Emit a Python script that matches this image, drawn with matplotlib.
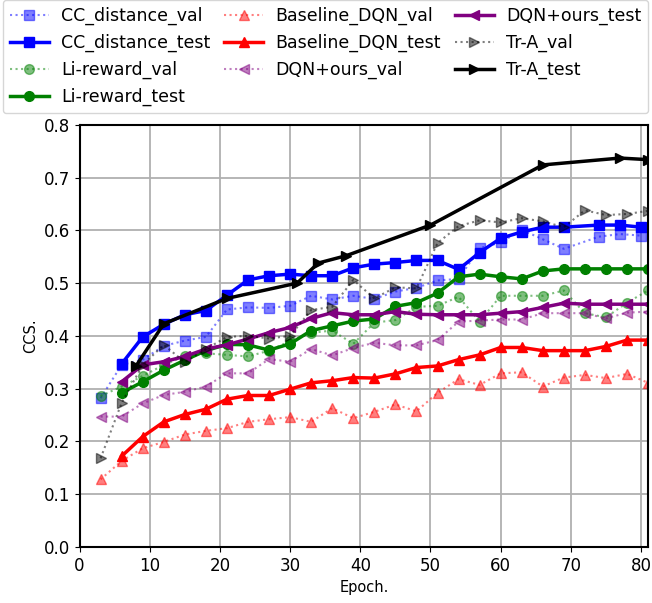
import numpy as np
import matplotlib
matplotlib.use("Agg")
import matplotlib.pyplot as plt

# epochs
ep_val = np.arange(3, 82, 3)
ep_test = np.arange(6, 82, 3)
ep_cc_val = [3, 6, 9, 12, 15, 18, 21, 24, 27, 30, 33, 36, 39, 42, 45, 48, 51, 54, 57, 60, 63, 66, 69, 74, 77, 80]
ep_cc_test = ep_cc_val[1:]
ep_tra_test = [8, 12, 21, 31, 34, 38, 50, 66, 77, 81]

cc_val = [0.282, 0.345, 0.355, 0.381, 0.391, 0.398, 0.450, 0.454, 0.453, 0.457, 0.476, 0.469, 0.476,
          0.470, 0.484, 0.491, 0.505, 0.508, 0.566, 0.577, 0.601, 0.583, 0.565, 0.588, 0.593, 0.590]
cc_test = [0.347, 0.398, 0.422, 0.440, 0.448, 0.477, 0.506, 0.514, 0.517, 0.514, 0.514, 0.529, 0.536,
           0.539, 0.543, 0.543, 0.526, 0.558, 0.585, 0.597, 0.606, 0.606, 0.610, 0.610, 0.606]
li_val = [0.286, 0.304, 0.324, 0.345, 0.362, 0.367, 0.364, 0.361, 0.372, 0.390, 0.406, 0.410, 0.385, 0.425,
          0.430, 0.455, 0.457, 0.474, 0.427, 0.476, 0.476, 0.476, 0.486, 0.443, 0.435, 0.463, 0.486]
li_test = [0.292, 0.313, 0.335, 0.354, 0.372, 0.384, 0.383, 0.373, 0.385, 0.410, 0.419, 0.428, 0.432,
           0.456, 0.463, 0.481, 0.512, 0.517, 0.512, 0.508, 0.523, 0.527, 0.527, 0.527, 0.527, 0.527]
base_val = [0.128, 0.163, 0.187, 0.199, 0.213, 0.220, 0.225, 0.237, 0.242, 0.246, 0.237, 0.263, 0.244, 0.256,
            0.270, 0.257, 0.292, 0.318, 0.307, 0.329, 0.331, 0.304, 0.321, 0.326, 0.320, 0.328, 0.311]
base_test = [0.172, 0.209, 0.237, 0.251, 0.261, 0.280, 0.287, 0.287, 0.299, 0.311, 0.315, 0.321, 0.320,
             0.328, 0.340, 0.343, 0.355, 0.364, 0.378, 0.378, 0.372, 0.372, 0.372, 0.380, 0.392, 0.392]
ours_val = [0.247, 0.247, 0.272, 0.288, 0.294, 0.304, 0.329, 0.329, 0.356, 0.351, 0.375, 0.363, 0.377, 0.387,
            0.382, 0.382, 0.392, 0.427, 0.429, 0.431, 0.431, 0.443, 0.443, 0.443, 0.433, 0.444, 0.446]
ours_test = [0.313, 0.345, 0.351, 0.361, 0.375, 0.383, 0.394, 0.406, 0.416, 0.433, 0.444, 0.440, 0.440,
             0.446, 0.441, 0.440, 0.440, 0.440, 0.443, 0.446, 0.454, 0.462, 0.460, 0.460, 0.460, 0.460]
tra_val = [0.168, 0.273, 0.345, 0.383, 0.350, 0.375, 0.398, 0.400, 0.395, 0.400, 0.449, 0.455, 0.506, 0.471,
           0.492, 0.490, 0.576, 0.608, 0.619, 0.615, 0.623, 0.617, 0.606, 0.638, 0.629, 0.631, 0.637]
tra_test = [0.342, 0.423, 0.471, 0.500, 0.538, 0.552, 0.610, 0.724, 0.737, 0.734]

fig = plt.figure(figsize=(6.52, 6.03), dpi=100)
ax = fig.add_axes([0.122, 0.093, 0.872, 0.7])

val_kw = dict(linestyle=":", linewidth=1.5, markersize=7, alpha=0.5)
test_kw = dict(linestyle="-", linewidth=2.5, markersize=7)

ax.plot(ep_cc_val, cc_val, marker="s", color="blue", label="CC_distance_val", **val_kw)
ax.plot(ep_cc_test, cc_test, marker="s", color="blue", label="CC_distance_test", **test_kw)
ax.plot(ep_val, li_val, marker="o", color="green", label="Li-reward_val", **val_kw)
ax.plot(ep_test, li_test, marker="o", color="green", label="Li-reward_test", **test_kw)
ax.plot(ep_val, base_val, marker="^", color="red", label="Baseline_DQN_val", **val_kw)
ax.plot(ep_test, base_test, marker="^", color="red", label="Baseline_DQN_test", **test_kw)
ax.plot(ep_val, ours_val, marker="<", color="purple", label="DQN+ours_val", **val_kw)
ax.plot(ep_test, ours_test, marker="<", color="purple", label="DQN+ours_test", **test_kw)
ax.plot(ep_val, tra_val, marker=">", color="black", label="Tr-A_val", **val_kw)
ax.plot(ep_tra_test, tra_test, marker=">", color="black", label="Tr-A_test", **test_kw)

ax.set_xlim(0, 81)
ax.set_ylim(0, 0.8)
ax.set_xticks(np.arange(0, 81, 10))
ax.set_yticks(np.arange(0, 0.81, 0.1))
ax.tick_params(labelsize=12)
ax.set_xlabel("Epoch.", fontsize=10.5)
ax.set_ylabel("CCS.", fontsize=10.5)
ax.grid(True, color="#b0b0b0", linewidth=1.3)
for s in ax.spines.values():
    s.set_linewidth(1.5)

ax.legend(loc="lower right", bbox_to_anchor=(1.0, 1.028), ncol=3, fontsize=12.5,
          borderaxespad=0, columnspacing=0.8, handlelength=2.25, handletextpad=0.7)

fig.savefig("out.png", dpi=100)
